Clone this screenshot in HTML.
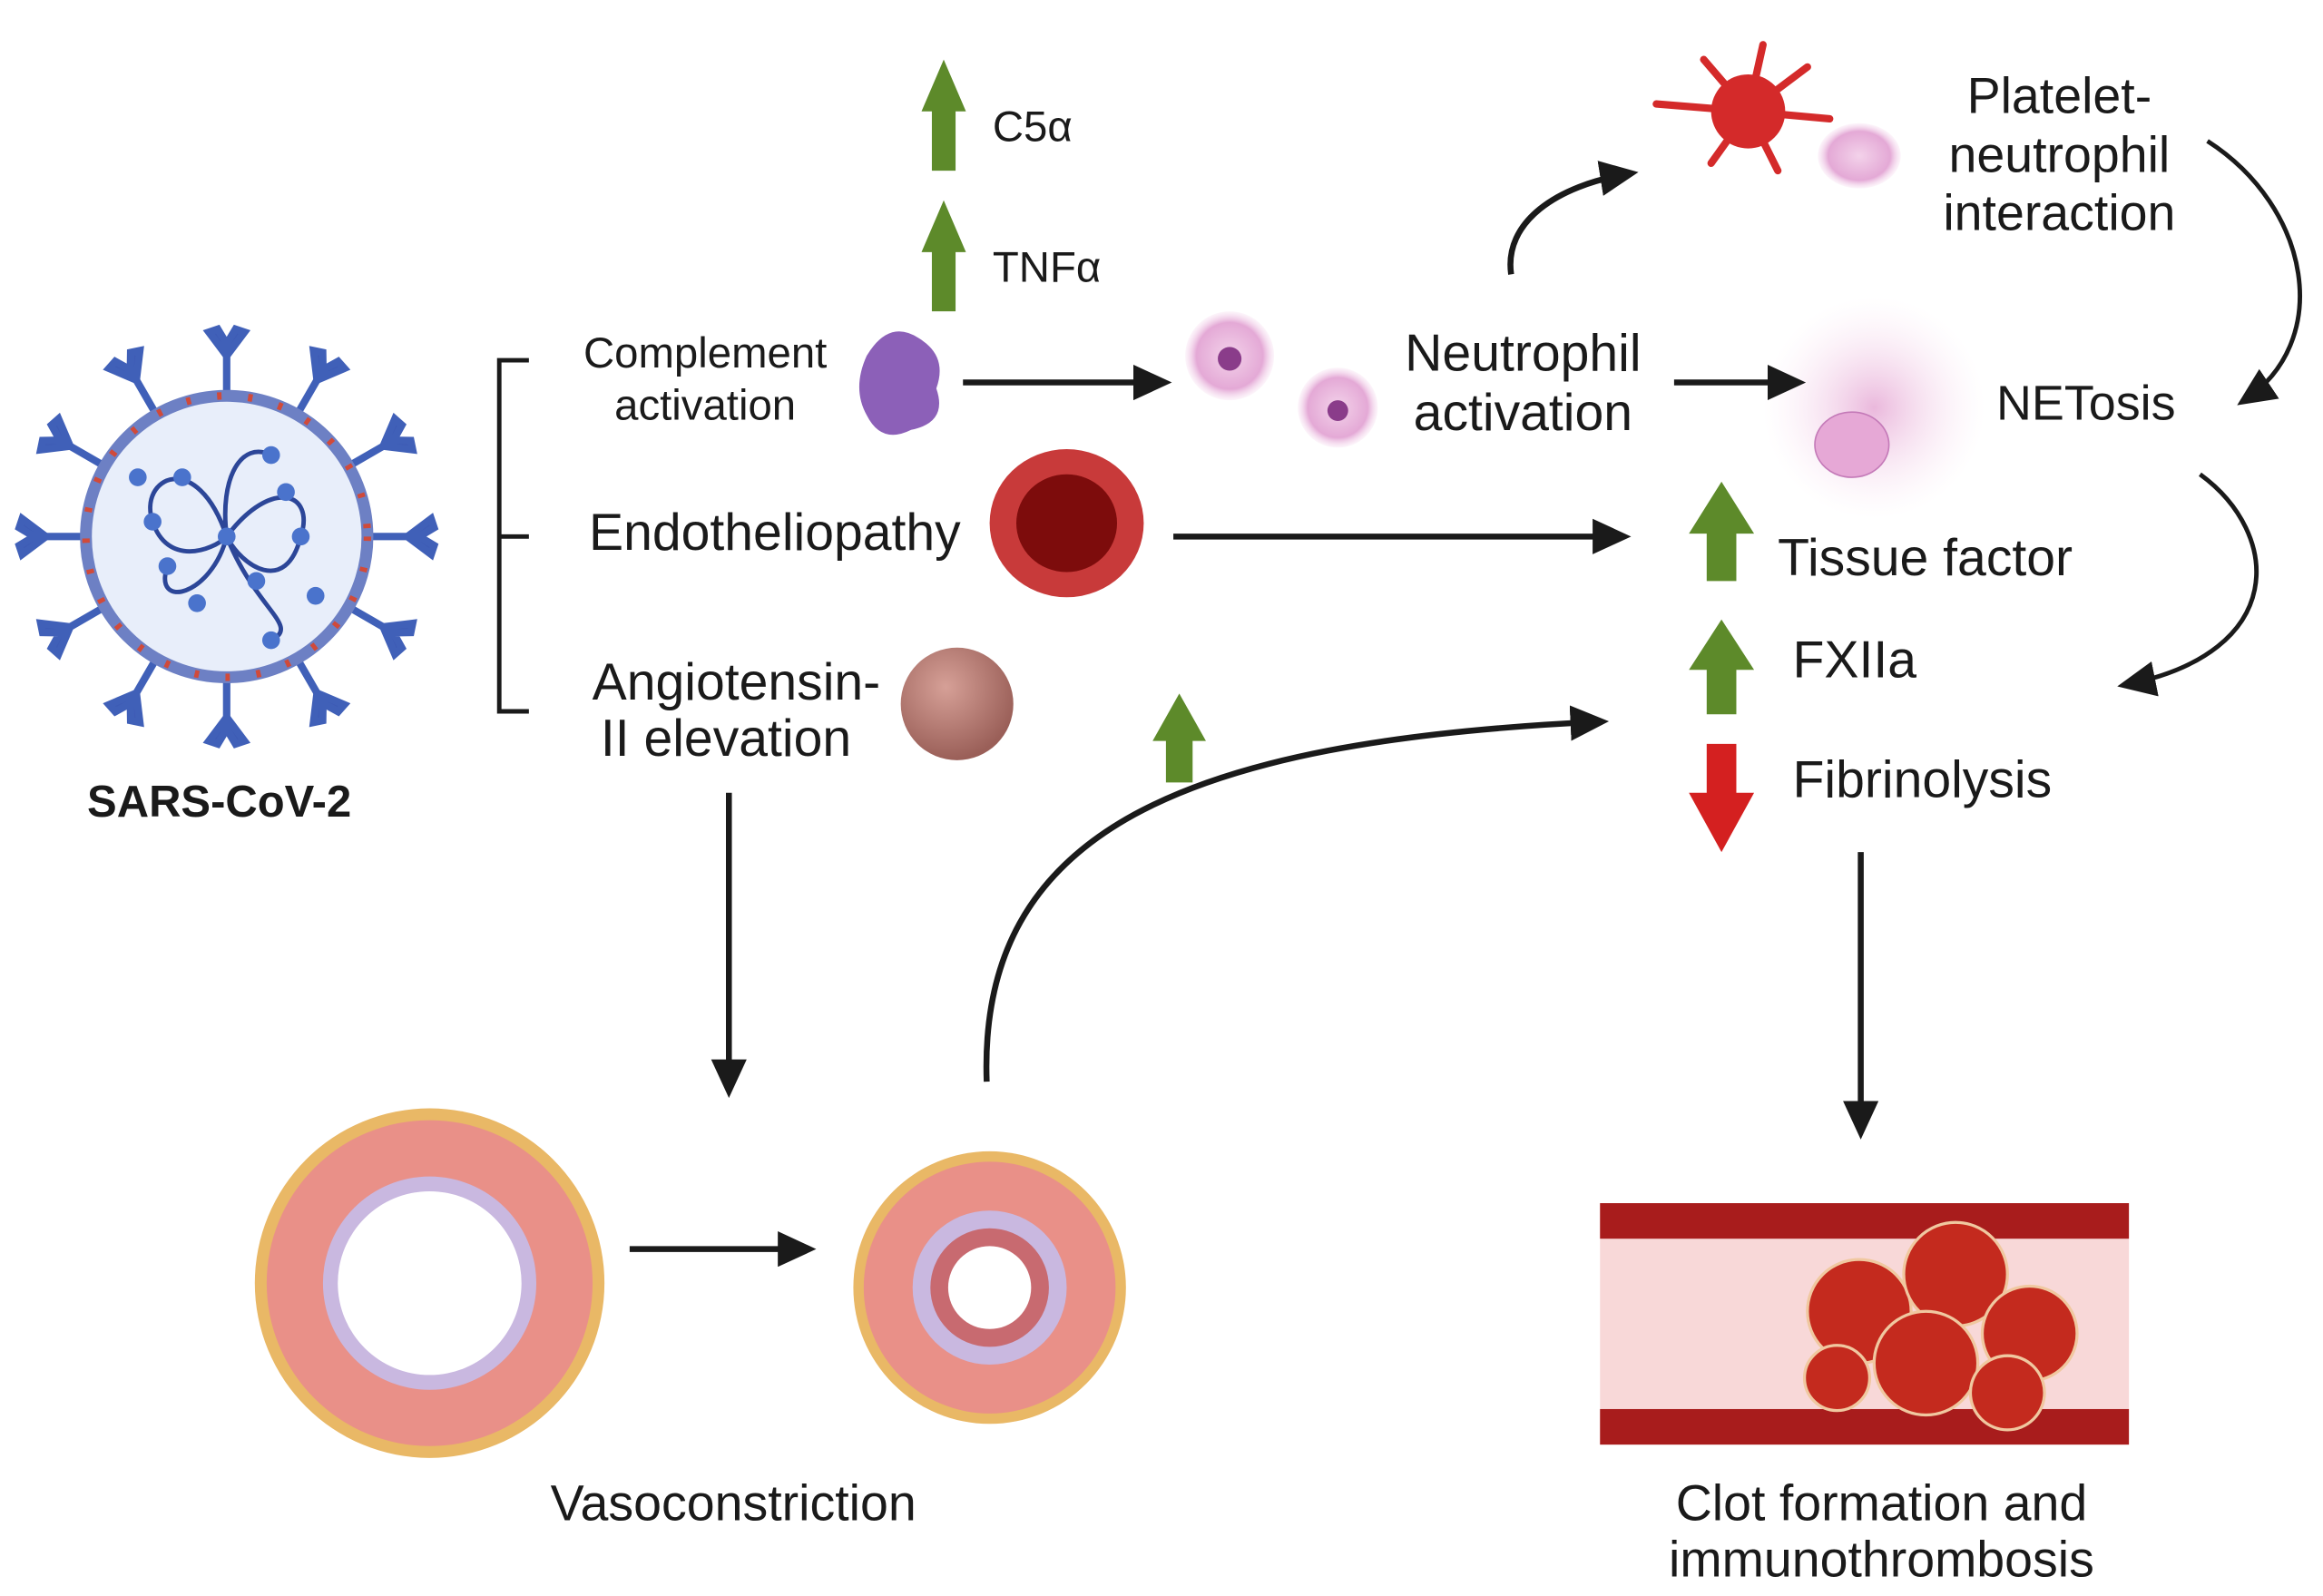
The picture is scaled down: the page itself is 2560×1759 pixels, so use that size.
<!DOCTYPE html>
<html><head><meta charset="utf-8"><style>html,body{margin:0;padding:0;background:#fff}svg{display:block}text{font-family:"Liberation Sans",sans-serif;fill:#1a1a1a}</style></head><body>
<svg width="2560" height="1759" viewBox="0 0 1568 1077" xmlns="http://www.w3.org/2000/svg">
<defs>
<marker id="a2" markerWidth="26" markerHeight="24" refX="20" refY="12" orient="auto" markerUnits="userSpaceOnUse"><path d="M0,0 L26,12 L0,24 z" fill="#1a1a1a"/></marker>
<radialGradient id="nc" cx="50%" cy="50%" r="50%"><stop offset="0" stop-color="#f3d2ea"/><stop offset="0.75" stop-color="#e4a9d6"/><stop offset="1" stop-color="#f6dcef" stop-opacity="0.3"/></radialGradient>
<radialGradient id="br" cx="40%" cy="35%" r="65%"><stop offset="0" stop-color="#d6a097"/><stop offset="1" stop-color="#9a5f58"/></radialGradient>
<radialGradient id="net" cx="50%" cy="50%" r="50%"><stop offset="0" stop-color="#eab8dc"/><stop offset="1" stop-color="#fbeaf5" stop-opacity="0"/></radialGradient>
</defs>
<g transform="translate(153,362)">
<g stroke="#4060b8" stroke-width="5" fill="#3e5bb5">
<g id="sp"><line x1="0" y1="-95" x2="0" y2="-122"/><path d="M-12,-138 L0,-122 L12,-138 L6,-140 L0,-130 L-6,-140z"/></g>
<use href="#sp" transform="rotate(30)"/><use href="#sp" transform="rotate(60)"/><use href="#sp" transform="rotate(90)"/><use href="#sp" transform="rotate(120)"/><use href="#sp" transform="rotate(150)"/><use href="#sp" transform="rotate(180)"/><use href="#sp" transform="rotate(210)"/><use href="#sp" transform="rotate(240)"/><use href="#sp" transform="rotate(270)"/><use href="#sp" transform="rotate(300)"/><use href="#sp" transform="rotate(330)"/>
</g>
<circle r="95" fill="#e8eefa" stroke="#6d80c4" stroke-width="8"/>
<circle r="95" fill="none" stroke="#d04a3a" stroke-width="5" stroke-dasharray="3 18"/>
<g fill="none" stroke="#2c4698" stroke-width="3">
<path d="M0,0 C-20,-60 -60,-40 -50,-10 C-40,20 -10,10 0,0 C30,-40 60,-30 50,0 C40,40 10,20 0,0 C-10,40 -50,50 -40,20 M0,0 C20,50 50,60 30,70 M0,0 C-5,-40 10,-65 30,-55"/>
</g>
<g fill="#4a73cc"><circle cx="-50" cy="-10" r="6"/><circle cx="50" cy="0" r="6"/><circle cx="-30" cy="-40" r="6"/><circle cx="30" cy="-55" r="6"/><circle cx="-40" cy="20" r="6"/><circle cx="30" cy="70" r="6"/><circle cx="0" cy="0" r="6"/><circle cx="20" cy="30" r="6"/><circle cx="-20" cy="45" r="6"/><circle cx="40" cy="-30" r="6"/><circle cx="-60" cy="-40" r="6"/><circle cx="60" cy="40" r="6"/></g>
</g>
<text x="148" y="551" font-size="30" font-weight="bold" text-anchor="middle">SARS-CoV-2</text>
<path d="M357,243 H337 V480 H357 M337,362 H357" stroke="#1a1a1a" stroke-width="3" fill="none"/>
<text x="476" y="248" font-size="29" text-anchor="middle">Complement</text>
<text x="476" y="283" font-size="29" text-anchor="middle">activation</text>
<text x="523" y="371" font-size="35" text-anchor="middle">Endotheliopathy</text>
<text x="497" y="472" font-size="35" text-anchor="middle">Angiotensin-</text>
<text x="490" y="510" font-size="35" text-anchor="middle">II elevation</text>
<path d="M585,240 Q600,215 620,228 Q640,240 632,262 Q640,285 615,290 Q595,300 585,280 Q575,262 585,240z" fill="#8c60b8"/>
<ellipse cx="720" cy="353" rx="52" ry="50" fill="#c83a3a"/><ellipse cx="720" cy="353" rx="34" ry="33" fill="#7d0c0c"/>
<circle cx="646" cy="475" r="38" fill="url(#br)"/>
<g fill="#5d8a2a">
<path d="M622,75 L637,40 L652,75 H645 V115 H629 V75z"/>
<path d="M622,170 L637,135 L652,170 H645 V210 H629 V170z"/>
<path d="M1140,360 L1162,325 L1184,360 H1172 V392 H1152 V360z"/>
<path d="M1140,452 L1162,418 L1184,452 H1172 V482 H1152 V452z"/>
<path d="M778,500 L796,468 L814,500 H805 V528 H787 V500z"/>
</g>
<path d="M1152,502 H1172 V535 H1184 L1162,575 L1140,535 H1152z" fill="#d42020"/>
<text x="670" y="95" font-size="29">C5α</text>
<text x="670" y="190" font-size="29">TNFα</text>
<text x="1200" y="388" font-size="35">Tissue factor</text>
<text x="1210" y="457" font-size="35">FXIIa</text>
<text x="1210" y="538" font-size="35">Fibrinolysis</text>
<circle cx="830" cy="240" r="30" fill="url(#nc)"/><circle cx="830" cy="242" r="8" fill="#8a3c8a"/>
<circle cx="903" cy="275" r="27" fill="url(#nc)"/><circle cx="903" cy="277" r="7" fill="#8a3c8a"/>
<text x="1028" y="250" font-size="35" text-anchor="middle">Neutrophil</text>
<text x="1028" y="290" font-size="35" text-anchor="middle">activation</text>
<circle cx="1265" cy="275" r="75" fill="url(#net)"/>
<ellipse cx="1250" cy="300" rx="25" ry="22" fill="#e6a8d6" stroke="#c47ab8"/>
<text x="1408" y="283" font-size="33" text-anchor="middle">NETosis</text>
<g stroke="#d42a2a" stroke-width="5" fill="none" stroke-linecap="round"><path d="M1180,75 L1150,40 M1180,75 L1190,30 M1180,75 L1220,45 M1180,75 L1235,80 M1180,75 L1200,115 M1180,75 L1155,110 M1180,75 L1118,70"/></g>
<circle cx="1180" cy="75" r="25" fill="#d42a2a"/>
<ellipse cx="1255" cy="105" rx="28" ry="22" fill="url(#nc)"/>
<text x="1390" y="76" font-size="34" text-anchor="middle">Platelet-</text>
<text x="1390" y="116" font-size="34" text-anchor="middle">neutrophil</text>
<text x="1390" y="155" font-size="34" text-anchor="middle">interaction</text>
<g stroke="#1a1a1a" stroke-width="4" fill="none">
<line x1="650" y1="258" x2="785" y2="258" marker-end="url(#a2)"/>
<line x1="1130" y1="258" x2="1213" y2="258" marker-end="url(#a2)"/>
<line x1="792" y1="362" x2="1095" y2="362" marker-end="url(#a2)"/>
<line x1="492" y1="535" x2="492" y2="735" marker-end="url(#a2)"/>
<line x1="425" y1="843" x2="545" y2="843" marker-end="url(#a2)"/>
<line x1="1256" y1="575" x2="1256" y2="763" marker-end="url(#a2)"/>
<path d="M666,730 C660,560 800,500 1080,487" marker-end="url(#a2)"/>
<path d="M1020,185 C1015,150 1050,125 1100,117" marker-end="url(#a2)"/>
<path d="M1490,95 C1560,140 1575,230 1515,270" stroke-width="3" marker-end="url(#a2)"/>
<path d="M1485,320 C1540,360 1545,440 1435,462" stroke-width="3" marker-end="url(#a2)"/>
</g>
<circle cx="290" cy="866" r="118" fill="#e9b866" /><circle cx="290" cy="866" r="110" fill="#e99088"/>
<circle cx="290" cy="866" r="72" fill="#c9b8e0"/><circle cx="290" cy="866" r="62" fill="#fff"/>
<circle cx="668" cy="869" r="92" fill="#e9b866"/><circle cx="668" cy="869" r="85" fill="#e99088"/>
<circle cx="668" cy="869" r="52" fill="#c9b8e0"/><circle cx="668" cy="869" r="40" fill="#c86a70"/><circle cx="668" cy="869" r="28" fill="#fff"/>
<text x="495" y="1026" font-size="34" text-anchor="middle">Vasoconstriction</text>
<rect x="1080" y="812" width="357" height="163" fill="#f8d8d8"/>
<rect x="1080" y="812" width="357" height="24" fill="#a81c1c"/>
<rect x="1080" y="951" width="357" height="24" fill="#a81c1c"/>
<g fill="#c42a1e" stroke="#f0c8a0" stroke-width="2">
<circle cx="1255" cy="885" r="35"/><circle cx="1320" cy="860" r="35"/><circle cx="1370" cy="900" r="32"/><circle cx="1300" cy="920" r="35"/><circle cx="1240" cy="930" r="22"/><circle cx="1355" cy="940" r="25"/>
</g>
<text x="1270" y="1026" font-size="34" text-anchor="middle">Clot formation and</text>
<text x="1270" y="1064" font-size="34" text-anchor="middle">immunothrombosis</text>
</svg>
</body></html>
